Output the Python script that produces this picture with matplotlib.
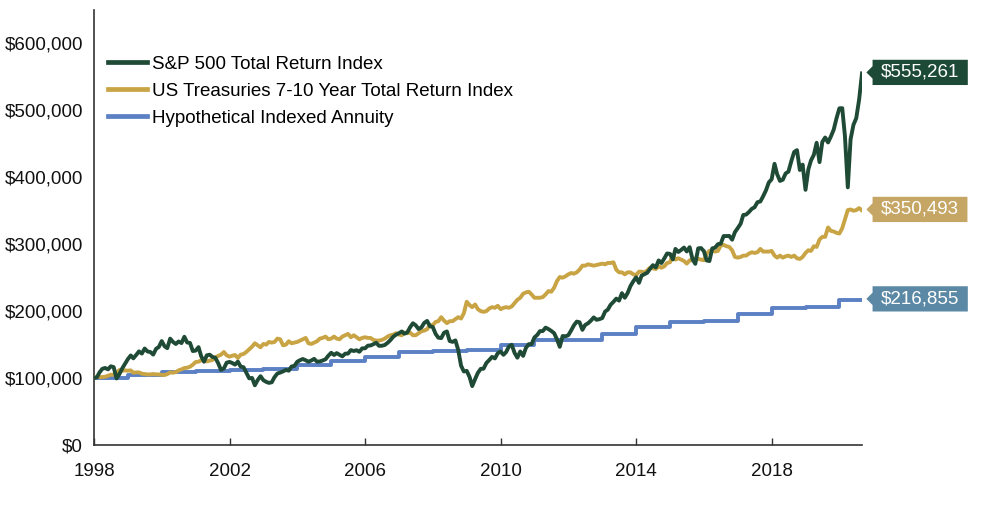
import pandas as pd
import matplotlib
matplotlib.use("Agg")
import matplotlib.pyplot as plt
import matplotlib.dates as mdates
from matplotlib.path import Path
from matplotlib.ticker import FuncFormatter

plt.rcParams['font.family'] = ['Liberation Sans', 'DejaVu Sans']

# monthly dates, value on the 1st of each month (values in $ thousands)
months = pd.date_range('1998-01-01', '2020-09-01', freq='MS')

sp500 = [
    100.0, 101.1, 108.4, 113.9, 115.1, 113.0, 117.6, 116.4, 99.4, 105.8, 114.4, 121.3,
    128.3, 133.8, 129.5, 134.6, 139.9, 136.6, 144.2, 139.7, 138.9, 135.1, 143.7, 146.5,
    155.3, 147.5, 144.7, 158.9, 154.1, 150.9, 154.7, 152.3, 161.7, 153.2, 152.5, 140.4,
    141.1, 146.2, 132.8, 124.4, 134.0, 134.9, 131.6, 130.3, 122.1, 112.2, 114.4, 123.0,
    124.2, 122.4, 120.1, 124.6, 117.1, 116.2, 108.0, 99.6, 100.2, 89.2, 97.2, 102.8,
    96.8, 94.3, 92.8, 93.7, 101.4, 106.8, 108.2, 110.0, 112.2, 111.0, 117.3, 118.2,
    124.4, 126.8, 128.5, 126.6, 124.5, 126.3, 128.7, 124.5, 124.9, 126.3, 128.1, 133.4,
    137.8, 134.5, 137.3, 134.9, 132.4, 136.5, 136.6, 141.8, 140.4, 141.6, 139.3, 144.4,
    144.5, 148.5, 148.7, 150.6, 152.7, 148.1, 148.3, 149.4, 152.7, 156.7, 161.9, 164.8,
    167.0, 169.7, 166.3, 168.2, 175.8, 181.9, 178.9, 173.3, 175.8, 182.5, 185.4, 177.6,
    176.3, 165.9, 160.4, 159.7, 167.7, 169.7, 155.4, 154.1, 156.3, 142.1, 118.5, 109.8,
    110.8, 101.5, 88.0, 98.4, 107.8, 113.8, 114.0, 122.6, 127.0, 131.7, 129.4, 137.1,
    139.7, 134.8, 138.8, 147.2, 149.8, 137.6, 130.5, 139.7, 133.2, 145.1, 150.7, 150.7,
    160.8, 164.6, 170.1, 170.3, 175.4, 173.2, 170.5, 167.1, 157.9, 146.7, 162.8, 162.4,
    164.0, 171.3, 178.7, 184.4, 183.4, 172.1, 179.4, 181.9, 185.9, 190.6, 187.1, 188.0,
    189.7, 199.5, 202.1, 209.6, 213.8, 218.7, 215.7, 226.8, 220.0, 226.9, 237.5, 244.5,
    250.6, 242.3, 253.0, 255.3, 257.4, 263.4, 268.7, 265.3, 275.8, 271.9, 278.9, 286.2,
    285.6, 277.3, 293.0, 288.5, 291.4, 295.0, 289.2, 295.6, 277.7, 270.7, 293.8, 294.3,
    289.8, 275.7, 274.9, 293.8, 294.9, 300.1, 300.8, 312.2, 312.2, 312.4, 306.8, 318.0,
    324.2, 330.7, 343.7, 344.3, 348.1, 352.9, 355.2, 362.8, 363.9, 371.6, 380.6, 392.2,
    397.1, 420.2, 404.7, 394.6, 396.4, 405.8, 408.5, 424.1, 437.9, 440.6, 410.9, 419.0,
    381.3, 412.1, 425.1, 433.6, 451.6, 422.7, 452.8, 459.5, 452.1, 460.8, 471.2, 488.1,
    503.1, 503.3, 461.7, 385.0, 456.9, 478.5, 488.3, 516.2, 555.261,
]

treasuries = [
    100, 102, 101.5, 101.5, 102, 103.5, 105, 105, 108, 112, 111, 111.5,
    111, 111.5, 108, 108.5, 108.5, 106.5, 106, 105.5, 105.5, 106, 105.5, 105.5,
    105, 104.5, 106, 108.5, 108, 109, 111.5, 113, 115, 115.5, 117, 120,
    124, 124.5, 126.5, 127.5, 125, 126, 127, 131, 133, 135, 139, 134,
    132, 133.5, 134.5, 130, 135, 136, 139, 143, 147, 152, 149, 146,
    151, 150, 154, 153, 154, 159, 158, 149, 150, 155, 152, 153,
    154, 156, 158, 160, 152, 151, 153, 155, 159, 160, 162, 158,
    159, 162, 159, 158, 162, 164, 166, 161, 164, 161, 158, 160,
    161, 160, 160, 157, 156, 156, 157, 159, 162, 164, 165, 167,
    165, 164, 168, 167, 168, 164, 164, 167, 170, 171, 173, 179,
    179, 184, 185, 191, 186, 182, 185, 185, 188, 191, 189, 197,
    214, 209, 206, 210, 203, 200, 199, 200, 204, 206, 205, 208,
    203, 205, 206, 205, 207, 212, 217, 220, 226, 228, 229, 225,
    220, 220, 220, 221, 225, 230, 229, 235, 245, 251, 250, 252,
    255, 257, 256, 258, 262, 268, 268, 270, 269, 268, 269, 270,
    271, 270, 272, 272, 273, 262, 258, 258, 255, 258, 258, 255,
    254, 259, 259, 258, 261, 265, 264, 263, 267, 265, 267, 272,
    273, 284, 277, 279, 277, 275, 271, 276, 276, 279, 278, 277,
    276, 286, 290, 291, 289, 290, 298, 299, 297, 296, 291, 281,
    280, 281, 283, 283, 286, 288, 287, 288, 293, 289, 289, 289,
    290, 283, 280, 283, 280, 282, 283, 281, 283, 279, 278, 281,
    287, 291, 290, 297, 296, 307, 311, 311, 325, 320, 319, 317,
    316, 324, 337, 351, 352, 350, 351, 354, 350.493,
]

# annuity credits once a year -> step line
annuity_dates = pd.to_datetime([f'{y}-01-01' for y in range(1998, 2021)] + ['2020-09-01'])
annuity = [100, 105, 109, 111, 112.5, 113.5, 119, 125, 131, 139, 141, 141.5,
           149, 157, 157.5, 166, 176, 184, 185.5, 196, 204, 206, 216.855, 216.855]

names = ['S&P 500 Total Return Index',
         'US Treasuries 7-10 Year Total Return Index',
         'Hypothetical Indexed Annuity']
line_colors = ['#1f4a36', '#c9a444', '#5b80c3']
tag_colors = ['#1d4a37', '#c6a665', '#5b88a5']
year_ticks = [1998, 2002, 2006, 2010, 2014, 2018]


def money(v, pos=None):
    return f"${v * 1000:,.0f}"


# label box with a small pointer on the left side
def tag_box(x0, y0, width, height, mutation_size):
    padx = 0.45 * mutation_size
    pady = 0.22 * mutation_size
    left, right = x0 - padx, x0 + width + padx
    bottom, top = y0 - pady, y0 + height + pady
    mid = (bottom + top) / 2
    tip = 0.33 * mutation_size
    half = 0.33 * mutation_size
    verts = [(left, bottom), (right, bottom), (right, top), (left, top),
             (left, mid + half), (left - tip, mid), (left, mid - half), (left, bottom)]
    return Path(verts, closed=True)


fig = plt.figure(figsize=(9.83, 5.07), dpi=100)
ax = fig.add_axes([94 / 983, 62 / 507, 768 / 983, 435 / 507])

ax.plot(annuity_dates, annuity, color=line_colors[2], lw=2.8, drawstyle='steps-post',
        label=names[2], zorder=2)
ax.plot(months, treasuries, color=line_colors[1], lw=2.8, label=names[1], zorder=3)
ax.plot(months, sp500, color=line_colors[0], lw=2.8, label=names[0], zorder=4)

# end value tags
ends = [(months[-1], sp500[-1]), (months[-1], treasuries[-1]), (annuity_dates[-1], annuity[-1])]
for (d, v), c in zip(ends, tag_colors):
    ax.annotate(money(v), xy=(d, v), xytext=(19, 1), textcoords='offset pixels',
                ha='left', va='center', color='white', fontsize=13.5,
                bbox=dict(boxstyle=tag_box, fc=c, ec='none'), annotation_clip=False)

ax.set_xlim(pd.Timestamp('1998-01-01'), pd.Timestamp('2020-09-01'))
ax.set_ylim(0, 650)
ax.set_yticks(range(0, 700, 100))
ax.yaxis.set_major_formatter(FuncFormatter(money))
ax.set_xticks([pd.Timestamp(f'{y}-01-01') for y in year_ticks])
ax.xaxis.set_major_formatter(mdates.DateFormatter('%Y'))

ax.tick_params(axis='y', length=0, pad=8, labelsize=13.5, labelcolor='#111111')
ax.tick_params(axis='x', direction='in', length=5, width=1, color='#333333', pad=13,
               labelsize=13.5, labelcolor='#111111')
for s in ['top', 'right']:
    ax.spines[s].set_visible(False)
for s in ['left', 'bottom']:
    ax.spines[s].set_color('#333333')
    ax.spines[s].set_linewidth(1.2)

handles, labels = ax.get_legend_handles_labels()
order = [2, 1, 0]
leg = ax.legend([handles[i] for i in order], [labels[i] for i in order],
                loc='upper left', bbox_to_anchor=(0.018, 0.895), frameon=False,
                fontsize=13.5, handlelength=2.1, handletextpad=0.25, labelspacing=0.52,
                borderpad=0, borderaxespad=0)
for line in leg.get_lines():
    line.set_linewidth(3.4)

plt.savefig('out.png', dpi=100)
